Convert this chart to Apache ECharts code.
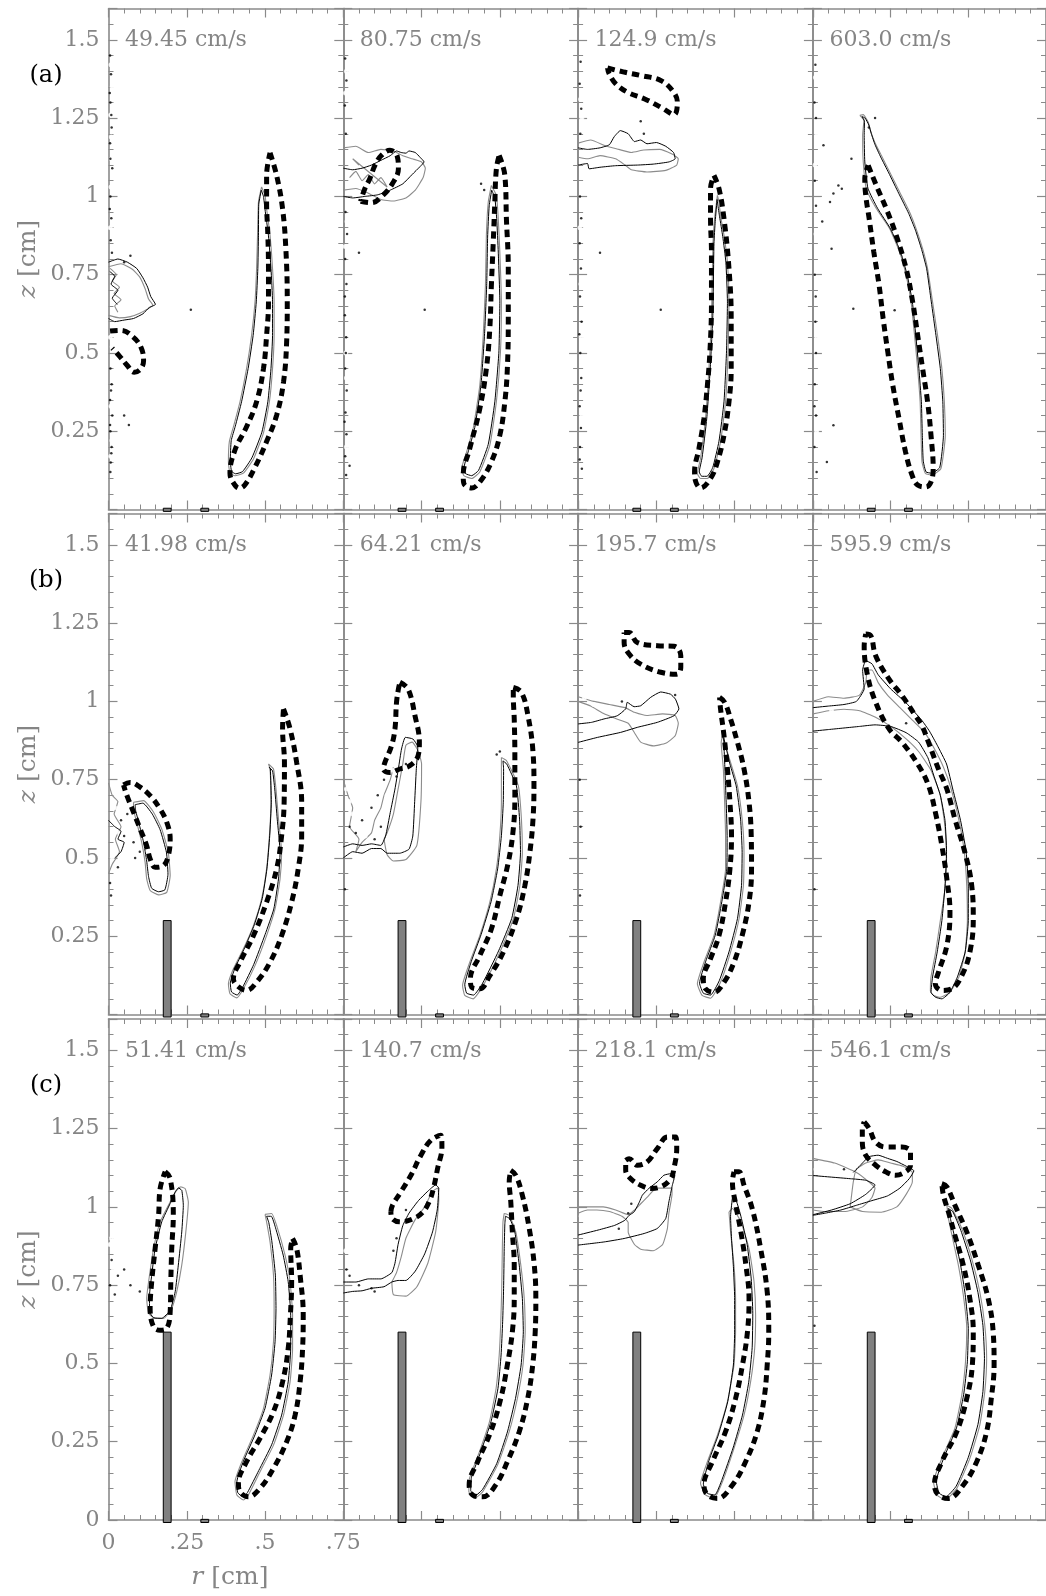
<!DOCTYPE html>
<html>
<head>
<meta charset="utf-8">
<title>Flame front contours</title>
<script src="https://cdn.jsdelivr.net/npm/echarts@6.0.0/dist/echarts.min.js"></script>
<style>
  html, body { margin: 0; padding: 0; background: #fff; }
  #chart { width: 1046px; height: 1596px; }
</style>
</head>
<body>
<div id="chart"></div>
<script>
// ---------- panel labels ----------
const rowLabels = ['(a)', '(b)', '(c)'];
const speedTitles = [
  ['49.45 cm/s', '80.75 cm/s', '124.9 cm/s', '603.0 cm/s'],
  ['41.98 cm/s', '64.21 cm/s', '195.7 cm/s', '595.9 cm/s'],
  ['51.41 cm/s', '140.7 cm/s', '218.1 cm/s', '546.1 cm/s']
];
const rTicks = [0, 0.25, 0.5, 0.75];
const zTicks = [0, 0.25, 0.5, 0.75, 1, 1.25, 1.5];

// ---------- rods [r0, r1, z0, z1] per row ----------
const rodsA = [[0.175, 0.2, -0.006, 0.004], [0.295, 0.32, -0.006, 0.004]];
const rodsB = [[0.175, 0.2, -0.008, 0.3], [0.295, 0.32, -0.008, 0.002]];
const rodsC = [[0.175, 0.2, -0.008, 0.6], [0.295, 0.32, -0.008, 0.002]];

// ---------- row (a) ----------
const a1Dash = [[.516,1.139],[.537,1.067],[.556,.961],[.567,.822],[.571,.663],[.569,.535],[.559,.407],[.537,.301],[.505,.217],[.468,.135],[.436,.079],[.418,.068],[.397,.088],[.388,.116],[.404,.19],[.441,.264],[.473,.344],[.495,.45],[.505,.556],[.511,.663],[.511,.769],[.509,.876],[.505,.982],[.505,1.067],[.516,1.139]];
const a1DashSmall = [[.005,.57],[.04,.572],[.08,.55],[.105,.515],[.112,.475],[.102,.448],[.082,.438],[.06,.46],[.035,.49],[.012,.515]];
const a1Gray = [[.489,1.03],[.479,.982],[.476,.876],[.473,.769],[.468,.663],[.457,.556],[.441,.45],[.42,.344],[.399,.264],[.386,.217],[.383,.153],[.388,.116],[.404,.108],[.431,.116],[.463,.161],[.495,.245],[.514,.344],[.524,.45],[.529,.556],[.529,.663],[.524,.769],[.516,.876],[.505,.961],[.5,1.003],[.489,1.03]];
const a1Black = [[.488,1.02],[.48,.975],[.479,.876],[.477,.769],[.472,.663],[.462,.556],[.446,.45],[.425,.344],[.405,.266],[.392,.22],[.389,.158],[.393,.122],[.406,.114],[.428,.121],[.458,.165],[.49,.247],[.509,.344],[.519,.45],[.524,.556],[.524,.663],[.519,.769],[.511,.874],[.5,.958],[.495,1.0],[.488,1.02]];
const a1BlobBlack = [[0,.79],[.03,.8],[.06,.79],[.09,.77],[.11,.74],[.125,.71],[.135,.68],[.15,.655],[.13,.645],[.11,.625],[.08,.61],[.05,.605],[.02,.6],[0,.61]];
const a1BlobGray = [[0,.775],[.04,.785],[.075,.768],[.1,.742],[.117,.705],[.128,.672],[.142,.652],[.124,.64],[.1,.627],[.07,.616],[.035,.612],[0,.62]];
const a1NoiseGray = [[.005,.77],[.025,.75],[.012,.73],[.035,.71],[.018,.69],[.04,.67],[.02,.65],[.03,.63]];
const a1NoiseBlack = [[.004,.76],[.02,.745],[.008,.72],[.03,.7],[.012,.675],[.028,.655]];
const a1SpecksK = [[.005,1.45],[.008,1.39],[.006,1.3],[.01,1.22],[.005,1.17],[.012,1.09],[.006,1.0],[.009,.93],[.007,.86],[.011,.82],[.05,.79],[.07,.81],[.263,.638],[.006,.45],[.01,.4],[.005,.35],[.012,.3],[.006,.25],[.01,.2],[.007,.15],[.05,.3],[.065,.27],[.004,1.33],[.009,1.26],[.006,1.12],[.004,.96],[.008,.38],[.005,.27],[.009,.18],[.006,.12]];
const a1SpecksG = [[.008,1.42],[.012,1.35],[.007,1.26],[.01,1.12],[.008,1.03],[.006,.55],[.012,.52],[.008,.33],[.011,.22],[.007,.17],[.03,.14],[.009,1.19],[.006,.9]];

const a2Dash = [[.498,1.131],[.516,1.067],[.521,.929],[.527,.769],[.527,.61],[.524,.45],[.516,.344],[.5,.237],[.473,.152],[.436,.088],[.41,.069],[.385,.083],[.383,.11],[.404,.195],[.436,.322],[.457,.45],[.468,.578],[.473,.716],[.479,.854],[.484,.982],[.489,1.088],[.498,1.131]];
const a2DashTop = [[.055,.984],[.09,.98],[.128,1.005],[.157,1.041],[.176,1.088],[.172,1.129],[.149,1.147],[.122,1.131],[.101,1.099],[.085,1.057],[.069,1.025],[.055,.984]];
const a2Gray = [[.473,1.035],[.463,.982],[.457,.876],[.454,.716],[.447,.557],[.436,.397],[.415,.259],[.394,.184],[.378,.131],[.385,.108],[.41,.099],[.436,.12],[.468,.205],[.489,.344],[.502,.503],[.505,.663],[.5,.822],[.495,.929],[.489,1.003],[.473,1.035]];
const a2Black = [[.474,1.02],[.466,.97],[.461,.87],[.458,.716],[.451,.557],[.44,.4],[.42,.262],[.4,.188],[.386,.135],[.39,.115],[.41,.108],[.432,.125],[.463,.208],[.484,.344],[.497,.503],[.5,.663],[.495,.822],[.49,.929],[.484,.995],[.474,1.02]];
const a2TopBlack = [[0,1.0],[.03,.995],[.07,1.0],[.11,1.005],[.15,1.02],[.19,1.04],[.22,1.07],[.245,1.095],[.258,1.11],[.245,1.125],[.23,1.14],[.21,1.145],[.2,1.138],[.185,1.14],[.17,1.145],[.15,1.13],[.12,1.115],[.09,1.1],[.06,1.09],[.03,1.085],[0,1.09]];
const a2TopGray = [[0,1.02],[.04,1.025],[.08,1.01],[.12,.99],[.16,.985],[.2,.995],[.23,1.02],[.255,1.06],[.262,1.09],[.25,1.11],[.22,1.12],[.19,1.13],[.16,1.145],[.12,1.15],[.08,1.14],[.04,1.16],[0,1.155]];
const a2NoiseGray = [[.02,1.06],[.04,1.08],[.06,1.05],[.08,1.07],[.1,1.04],[.12,1.06],[.14,1.03],[.03,1.12],[.05,1.1]];
const a2SpecksK = [[.006,1.44],[.01,1.37],[.005,1.29],[.008,1.2],[.007,.95],[.012,.88],[.006,.8],[.01,.72],[.005,.62],[.009,.55],[.006,.45],[.011,.38],[.007,.31],[.01,.24],[.006,.17],[.02,.14],[.26,.638],[.05,.82],[.44,1.04],[.45,1.02],[.005,.68],[.008,.5],[.004,.28],[.009,.11]];
const a2SpecksG = [[.01,1.4],[.007,1.33],[.012,.92],[.008,.5],[.096,.507],[.138,.652],[.01,.2],[.025,.16],[.006,.84],[.01,.42]];

const a3Dash = [[.434,1.067],[.45,1.025],[.466,.929],[.482,.769],[.489,.61],[.489,.45],[.482,.344],[.466,.237],[.445,.152],[.423,.099],[.391,.069],[.376,.088],[.372,.12],[.386,.195],[.402,.291],[.413,.397],[.421,.503],[.426,.663],[.426,.822],[.423,.929],[.423,1.025],[.434,1.067]];
const a3DashTop = [[.094,1.41],[.147,1.397],[.2,1.386],[.264,1.37],[.301,1.338],[.317,1.301],[.306,1.261],[.269,1.282],[.211,1.312],[.157,1.333],[.12,1.36],[.099,1.392],[.094,1.41]];
const a3Gray = [[.445,1.003],[.436,.929],[.431,.854],[.428,.716],[.426,.61],[.418,.45],[.407,.291],[.391,.163],[.381,.115],[.391,.099],[.413,.099],[.434,.131],[.455,.216],[.471,.344],[.479,.503],[.482,.663],[.477,.791],[.466,.876],[.455,.939],[.45,.982],[.445,1.003]];
const a3Black = [[.444,.99],[.438,.92],[.434,.85],[.432,.716],[.43,.61],[.422,.45],[.411,.291],[.396,.165],[.387,.12],[.395,.106],[.412,.106],[.43,.134],[.45,.218],[.466,.344],[.474,.503],[.477,.663],[.472,.79],[.462,.872],[.452,.935],[.446,.975],[.444,.99]];
const a3TopBlack = [[0,1.1],[.03,1.105],[.035,1.088],[.07,1.093],[.12,1.098],[.19,1.1],[.24,1.103],[.29,1.11],[.31,1.12],[.305,1.14],[.28,1.16],[.25,1.172],[.22,1.168],[.2,1.18],[.18,1.175],[.16,1.2],[.135,1.21],[.115,1.19],[.1,1.165],[.07,1.155],[.03,1.15],[0,1.155]];
const a3TopGray = [[0,1.17],[.04,1.18],[.09,1.16],[.13,1.15],[.17,1.14],[.21,1.148],[.26,1.15],[.3,1.135],[.32,1.12],[.315,1.1],[.28,1.083],[.22,1.078],[.17,1.085],[.15,1.1],[.12,1.12],[.07,1.13],[.03,1.12],[0,1.125]];
const a3SpecksK = [[.008,1.43],[.005,1.36],[.01,1.28],[.007,1.2],[.006,1.0],[.01,.93],[.005,.85],[.009,.77],[.006,.68],[.011,.6],[.007,.5],[.01,.42],[.005,.33],[.009,.26],[.006,.2],[.012,.13],[.264,.638],[.07,.82],[.21,1.2],[.2,1.24],[.004,.56],[.008,.38],[.005,.16]];
const a3SpecksG = [[.008,1.31],[.012,1.25],[.01,.55],[.1,.507],[.141,.652],[.012,.3],[.02,.18],[.006,.9],[.009,.72]];

const a4Dash = [[.178,1.099],[.204,1.035],[.236,.961],[.268,.876],[.3,.769],[.321,.663],[.337,.557],[.353,.45],[.369,.344],[.38,.237],[.387,.131],[.38,.088],[.364,.072],[.337,.078],[.319,.11],[.298,.184],[.277,.291],[.257,.397],[.241,.503],[.226,.61],[.213,.716],[.196,.822],[.181,.929],[.17,1.003],[.167,1.057],[.178,1.099]];
const a4Gray = [[.151,1.259],[.164,1.243],[.16,1.195],[.162,1.11],[.172,1.024],[.204,.961],[.247,.897],[.279,.822],[.3,.748],[.316,.663],[.327,.556],[.337,.45],[.345,.344],[.348,.237],[.351,.152],[.362,.115],[.383,.11],[.412,.131],[.426,.237],[.423,.344],[.415,.45],[.401,.556],[.385,.663],[.369,.769],[.353,.833],[.332,.897],[.311,.95],[.279,1.014],[.247,1.078],[.22,1.131],[.199,1.173],[.185,1.211],[.178,1.237],[.162,1.261],[.151,1.259]];
const a4Black = [[.158,1.255],[.166,1.24],[.165,1.195],[.167,1.11],[.177,1.026],[.208,.962],[.25,.896],[.283,.82],[.304,.746],[.32,.663],[.331,.556],[.341,.45],[.349,.344],[.352,.237],[.355,.155],[.364,.12],[.382,.116],[.408,.134],[.42,.237],[.418,.344],[.41,.45],[.396,.556],[.381,.663],[.366,.769],[.35,.83],[.33,.892],[.308,.946],[.276,1.01],[.244,1.075],[.218,1.126],[.2,1.165],[.188,1.2],[.18,1.228],[.168,1.25],[.158,1.255]];
const a4SpecksK = [[.008,1.42],[.005,1.3],[.01,1.25],[.034,1.163],[.124,1.12],[.082,1.035],[.093,1.024],[.066,1.009],[.055,.982],[.006,1.05],[.01,.97],[.03,.92],[.06,.833],[.13,.641],[.263,.636],[.066,.269],[.045,.152],[.008,.6],[.01,.5],[.006,.4],[.01,.3],[.005,.2],[.012,.12],[.18,1.22],[.2,1.25],[.006,.75],[.009,.68],[.005,.33]];
const a4SpecksG = [[.008,1.38],[.012,1.2],[.03,.99],[.01,.88],[.098,.503],[.025,.45],[.012,.25],[.03,.15],[.007,1.1],[.012,.55]];

// ---------- row (b) ----------
const b1Dash = [[.559,.976],[.58,.912],[.601,.805],[.617,.678],[.617,.571],[.606,.465],[.585,.359],[.553,.252],[.516,.167],[.473,.103],[.441,.077],[.41,.093],[.399,.114],[.42,.167],[.463,.252],[.505,.359],[.537,.465],[.553,.571],[.561,.678],[.562,.805],[.556,.912],[.559,.976]];
const b1DashLeft = [[.048,.733],[.069,.741],[.101,.726],[.133,.699],[.165,.656],[.186,.614],[.197,.561],[.191,.507],[.176,.476],[.149,.47],[.133,.497],[.122,.539],[.101,.593],[.08,.646],[.059,.699],[.048,.733]];
const b1Gray = [[.511,.8],[.527,.784],[.535,.72],[.543,.624],[.553,.518],[.548,.433],[.532,.337],[.505,.252],[.468,.156],[.431,.082],[.41,.053],[.388,.066],[.383,.098],[.399,.146],[.431,.21],[.463,.284],[.489,.369],[.505,.465],[.514,.571],[.519,.678],[.516,.784],[.511,.8]];
const b1Black = [[.513,.79],[.524,.778],[.531,.72],[.539,.624],[.548,.518],[.543,.433],[.528,.337],[.5,.255],[.464,.16],[.429,.088],[.411,.062],[.393,.072],[.389,.1],[.404,.148],[.435,.213],[.466,.287],[.491,.37],[.506,.465],[.515,.571],[.52,.678],[.517,.784],[.513,.79]];
const b1LeftGray = [[.08,.678],[.112,.683],[.144,.646],[.17,.593],[.191,.518],[.197,.444],[.186,.39],[.16,.382],[.133,.396],[.122,.433],[.117,.486],[.106,.55],[.09,.614],[.08,.656],[.08,.678]];
const b1LeftBlack = [[.085,.67],[.11,.675],[.14,.64],[.165,.59],[.185,.518],[.19,.448],[.18,.398],[.16,.392],[.138,.403],[.128,.44],[.122,.49],[.112,.55],[.097,.612],[.087,.65],[.085,.67]];
const b1NoiseGray = [[0,.74],[.012,.7],[.03,.68],[.018,.64],[.04,.6],[.022,.56],[.035,.52],[.012,.48],[0,.45]];
const b1NoiseBlack = [[0,.62],[.02,.6],[.04,.585],[.03,.56],[.05,.55],[.04,.52],[.02,.5]];
const b1SpecksK = [[.005,.42],[.008,.38],[.05,.57],[.08,.55],[.1,.52],[.085,.5],[.03,.47],[.11,.58],[.04,.62],[.06,.64]];
const b1SpecksG = [[.02,.66],[.035,.58],[.06,.6],[.09,.56],[.012,.5],[.07,.45]];

const b2Dash = [[.543,1.045],[.569,1.029],[.59,.954],[.606,.837],[.609,.731],[.606,.624],[.596,.518],[.58,.412],[.553,.305],[.511,.199],[.468,.124],[.436,.082],[.41,.087],[.406,.114],[.436,.188],[.473,.273],[.5,.38],[.527,.486],[.543,.593],[.548,.699],[.548,.827],[.546,.944],[.543,1.018],[.543,1.045]];
const b2DashLeft = [[.181,1.061],[.207,1.039],[.229,.954],[.243,.869],[.239,.827],[.213,.795],[.181,.784],[.149,.773],[.128,.784],[.133,.805],[.154,.858],[.165,.912],[.17,.997],[.176,1.039],[.181,1.061]];
const b2Gray = [[.505,.821],[.521,.811],[.559,.731],[.569,.624],[.572,.518],[.564,.412],[.543,.305],[.5,.199],[.447,.093],[.415,.05],[.388,.061],[.381,.093],[.404,.167],[.436,.252],[.468,.359],[.489,.465],[.5,.571],[.505,.678],[.505,.784],[.505,.821]];
const b2Black = [[.51,.81],[.522,.8],[.553,.73],[.563,.624],[.566,.518],[.558,.412],[.538,.307],[.496,.203],[.445,.1],[.416,.062],[.394,.068],[.388,.095],[.409,.17],[.44,.255],[.472,.36],[.493,.465],[.505,.571],[.511,.678],[.512,.784],[.51,.81]];
const b2LeftBlack = [[0,.5],[.03,.52],[.06,.515],[.09,.53],[.12,.53],[.14,.515],[.18,.515],[.21,.528],[.222,.57],[.228,.68],[.233,.78],[.238,.855],[.222,.88],[.198,.885],[.186,.848],[.176,.785],[.165,.72],[.15,.645],[.135,.57],[.12,.54],[.09,.545],[.06,.54],[.03,.545],[0,.535]];
const b2LeftGray = [[.13,.56],[.14,.51],[.16,.49],[.2,.495],[.235,.54],[.248,.68],[.25,.8],[.24,.84],[.22,.87],[.2,.86],[.19,.8],[.175,.72],[.16,.64],[.14,.58],[.13,.56]];
const b2NoiseGray = [[0,.75],[.015,.7],[.03,.66],[.02,.6],[.05,.56],[.04,.52],[.06,.55],[.09,.58],[.1,.62],[.12,.66],[.13,.7],[.15,.75],[.16,.79]];
const b2SpecksK = [[.02,.6],[.04,.58],[.06,.62],[.09,.66],[.11,.7],[.12,.6],[.1,.56],[.13,.75],[.2,.8],[.17,.76],[.5,.84],[.49,.83],[.005,.4]];
const b2SpecksG = [[.01,.72],[.02,.68],[.03,.64],[.05,.6],[.07,.57],[.015,.56],[.14,.7],[.16,.78]];

const b3Dash = [[.452,1.013],[.468,.997],[.487,.944],[.509,.869],[.53,.784],[.546,.678],[.553,.571],[.554,.465],[.546,.359],[.524,.252],[.498,.167],[.466,.103],[.434,.071],[.407,.082],[.4,.114],[.423,.178],[.45,.252],[.471,.359],[.485,.465],[.49,.571],[.485,.678],[.477,.784],[.466,.891],[.455,.976],[.452,1.013]];
const b3DashTop = [[.147,1.22],[.163,1.22],[.189,1.188],[.253,1.178],[.306,1.176],[.328,1.146],[.328,1.109],[.315,1.087],[.264,1.093],[.2,1.119],[.163,1.151],[.147,1.188],[.147,1.22]];
const b3Gray = [[.461,.89],[.487,.805],[.509,.731],[.524,.624],[.53,.518],[.528,.412],[.514,.305],[.487,.199],[.455,.103],[.423,.052],[.396,.061],[.381,.098],[.402,.167],[.434,.252],[.455,.359],[.471,.465],[.471,.571],[.468,.678],[.464,.784],[.457,.869],[.461,.89]];
const b3Black = [[.465,.885],[.485,.8],[.505,.73],[.519,.624],[.524,.518],[.522,.412],[.509,.306],[.482,.2],[.451,.108],[.423,.062],[.4,.068],[.388,.1],[.407,.168],[.438,.253],[.459,.36],[.475,.465],[.476,.571],[.473,.678],[.469,.784],[.465,.885]];
const b3TopBlack = [[0,.869],[.062,.885],[.136,.901],[.189,.917],[.253,.933],[.306,.954],[.322,.976],[.311,1.007],[.295,1.023],[.264,1.03],[.232,1.013],[.2,.986],[.179,.983],[.157,.997],[.152,.976],[.125,.954],[.083,.944],[.043,.933],[0,.928]];
const b3TopGray = [[0,1.0],[.04,.985],[.08,.962],[.12,.945],[.16,.93],[.18,.9],[.2,.87],[.24,.858],[.28,.866],[.31,.89],[.32,.93],[.31,.955],[.27,.96],[.22,.955],[.18,.965],[.15,.98],[.1,.99],[.05,1.0],[0,1.015]];
const b3SpecksK = [[.005,.75],[.008,.6],[.006,.38],[.31,1.02],[.14,1.0]];
const b3SpecksG = [[.02,1.01],[.05,.99],[.14,1.02]];

const b4Dash = [[.17,1.215],[.186,1.21],[.202,1.146],[.245,1.071],[.287,1.018],[.33,.954],[.351,.922],[.372,.869],[.404,.784],[.431,.72],[.457,.624],[.489,.518],[.511,.412],[.516,.305],[.505,.199],[.479,.124],[.447,.082],[.415,.077],[.394,.098],[.404,.135],[.431,.22],[.441,.327],[.431,.433],[.415,.539],[.394,.646],[.372,.731],[.34,.795],[.287,.869],[.245,.912],[.202,.997],[.176,1.082],[.165,1.177],[.17,1.215]];
const b4Black = [[0,.905],[.05,.91],[.1,.915],[.15,.92],[.2,.925],[.25,.92],[.3,.9],[.34,.87],[.37,.82],[.39,.76],[.41,.7],[.425,.62],[.43,.52],[.425,.41],[.415,.3],[.4,.2],[.385,.12],[.38,.07],[.395,.055],[.415,.05],[.44,.07],[.465,.12],[.49,.2],[.5,.3],[.5,.41],[.493,.52],[.475,.62],[.45,.72],[.43,.8],[.4,.86],[.375,.905],[.35,.94],[.3,.995],[.25,1.04],[.21,1.085],[.19,1.12],[.17,1.13],[.16,1.1],[.165,1.04],[.14,1.0],[.1,.99],[.05,.985],[0,.98]];
const b4Gray = [[0,.96],[.05,.97],[.1,.975],[.15,.97],[.2,.95],[.25,.92],[.3,.88],[.34,.84],[.38,.78],[.41,.7],[.425,.6],[.43,.5],[.425,.4],[.41,.3],[.395,.2],[.38,.12],[.378,.075],[.39,.06],[.41,.055],[.44,.07],[.47,.12],[.49,.2],[.497,.3],[.495,.41],[.487,.52],[.47,.62],[.445,.72],[.42,.79],[.39,.85],[.36,.9],[.32,.94],[.28,.98],[.24,1.02],[.21,1.06],[.19,1.1],[.175,1.1],[.17,1.06],[.15,1.02],[.1,1.01],[.05,1.015],[0,1.0]];
const b4SpecksK = [[.005,.4],[.3,.93]];
const b4SpecksG = [[.02,.98],[.06,.97]];

// ---------- row (c) ----------
const c1Dash = [[.588,.899],[.601,.867],[.612,.782],[.622,.654],[.62,.548],[.612,.441],[.596,.335],[.569,.25],[.527,.165],[.484,.101],[.447,.074],[.42,.09],[.415,.117],[.441,.186],[.484,.261],[.527,.346],[.556,.441],[.574,.548],[.581,.654],[.585,.761],[.582,.867],[.588,.899]];
const c1DashLeft = [[.181,1.112],[.197,1.091],[.207,.974],[.202,.867],[.199,.761],[.197,.665],[.186,.612],[.165,.606],[.144,.617],[.133,.676],[.138,.761],[.149,.867],[.16,.973],[.165,1.059],[.181,1.112]];
const c1Gray = [[.5,.976],[.521,.979],[.537,.941],[.564,.846],[.58,.761],[.588,.654],[.588,.548],[.58,.441],[.559,.335],[.527,.239],[.484,.154],[.447,.08],[.431,.064],[.41,.08],[.404,.122],[.426,.186],[.463,.271],[.495,.356],[.516,.463],[.527,.569],[.529,.676],[.527,.782],[.516,.888],[.505,.952],[.5,.976]];
const c1Black = [[.505,.97],[.52,.97],[.533,.935],[.558,.846],[.574,.761],[.582,.654],[.582,.548],[.574,.441],[.553,.335],[.521,.24],[.48,.158],[.444,.088],[.43,.074],[.413,.087],[.41,.122],[.431,.188],[.468,.272],[.5,.357],[.521,.463],[.532,.569],[.535,.676],[.533,.782],[.522,.888],[.512,.95],[.505,.97]];
const c1LeftGray = [[.229,1.064],[.245,1.058],[.255,1.015],[.247,.92],[.234,.814],[.218,.729],[.202,.676],[.176,.644],[.149,.644],[.128,.66],[.122,.707],[.131,.782],[.144,.867],[.165,.952],[.197,1.016],[.218,1.053],[.229,1.064]];
const c1LeftBlack = [[.223,1.061],[.234,1.053],[.239,1.005],[.234,.92],[.223,.814],[.213,.729],[.197,.67],[.17,.644],[.144,.646],[.131,.665],[.131,.718],[.138,.782],[.149,.867],[.17,.952],[.197,1.011],[.213,1.048],[.223,1.061]];
const c1SpecksK = [[.01,.83],[.03,.78],[.05,.8],[.07,.75],[.1,.73],[.005,.75],[.02,.72]];
const c1SpecksG = [[.015,.8],[.04,.76],[.06,.74],[.09,.78],[.005,.88],[.01,.9]];

const c2Dash = [[.535,1.117],[.551,1.101],[.572,1.037],[.594,.931],[.61,.814],[.615,.707],[.613,.601],[.605,.495],[.589,.388],[.562,.282],[.524,.186],[.487,.112],[.445,.074],[.413,.08],[.402,.112],[.429,.186],[.471,.282],[.503,.388],[.524,.495],[.54,.601],[.546,.707],[.546,.814],[.54,.92],[.535,1.016],[.53,1.08],[.535,1.117]];
const c2DashLeft = [[.152,.984],[.157,1.005],[.184,1.048],[.216,1.101],[.248,1.165],[.28,1.213],[.312,1.229],[.315,1.191],[.301,1.122],[.288,1.059],[.274,1.016],[.253,.982],[.221,.961],[.184,.952],[.157,.962],[.152,.984]];
const c2Gray = [[.514,.979],[.53,.973],[.551,.92],[.567,.814],[.578,.707],[.581,.601],[.574,.495],[.556,.388],[.53,.282],[.493,.176],[.445,.09],[.419,.069],[.401,.09],[.403,.133],[.435,.218],[.467,.314],[.488,.42],[.498,.527],[.503,.633],[.506,.739],[.508,.867],[.51,.952],[.514,.979]];
const c2Black = [[.518,.97],[.532,.962],[.548,.92],[.562,.814],[.572,.707],[.575,.601],[.568,.495],[.55,.388],[.525,.284],[.49,.18],[.445,.098],[.422,.078],[.407,.094],[.409,.135],[.44,.22],[.472,.315],[.494,.42],[.504,.527],[.509,.633],[.512,.739],[.514,.867],[.516,.945],[.518,.97]];
const c2LeftBlack = [[0,.725],[.03,.73],[.06,.732],[.09,.74],[.13,.745],[.155,.76],[.175,.765],[.2,.765],[.23,.795],[.26,.85],[.285,.92],[.3,.99],[.305,1.06],[.295,1.07],[.27,1.05],[.24,1.02],[.21,.98],[.19,.94],[.175,.88],[.165,.82],[.155,.79],[.12,.77],[.08,.77],[.04,.76],[0,.76]];
const c2LeftGray = [[.155,.76],[.16,.72],[.2,.715],[.235,.745],[.27,.82],[.295,.92],[.305,1.02],[.302,1.06],[.285,1.05],[.26,1.0],[.23,.96],[.2,.9],[.185,.84],[.17,.79],[.155,.76]];
const c2SpecksK = [[.01,.8],[.02,.78],[.05,.75],[.09,.74],[.1,.73],[.2,.99],[.17,.9],[.16,.86]];
const c2SpecksG = [[.008,.86],[.015,.82],[.03,.79],[.13,.8]];

const c3Dash = [[.498,1.112],[.514,1.112],[.53,1.069],[.556,.995],[.583,.867],[.604,.729],[.609,.601],[.604,.495],[.594,.388],[.572,.282],[.535,.186],[.493,.112],[.445,.069],[.413,.08],[.402,.112],[.429,.186],[.471,.282],[.503,.388],[.525,.495],[.541,.601],[.546,.707],[.536,.814],[.52,.92],[.504,1.005],[.493,1.08],[.498,1.112]];
const c3DashTop = [[.152,1.149],[.163,1.154],[.189,1.133],[.221,1.144],[.253,1.186],[.285,1.223],[.312,1.223],[.315,1.186],[.306,1.122],[.296,1.09],[.264,1.064],[.232,1.059],[.2,1.069],[.168,1.09],[.152,1.117],[.152,1.149]];
const c3Gray = [[.482,.984],[.493,.995],[.52,.952],[.546,.867],[.562,.761],[.567,.654],[.564,.548],[.551,.441],[.53,.335],[.498,.229],[.461,.122],[.434,.069],[.407,.08],[.391,.117],[.413,.186],[.445,.271],[.477,.378],[.498,.495],[.503,.601],[.503,.707],[.498,.814],[.487,.92],[.482,.984]];
const c3Black = [[.493,1.03],[.505,1.02],[.52,.97],[.54,.88],[.553,.77],[.558,.66],[.556,.55],[.545,.44],[.525,.335],[.495,.23],[.46,.13],[.437,.08],[.413,.085],[.4,.115],[.418,.19],[.448,.272],[.478,.378],[.496,.495],[.5,.6],[.5,.71],[.496,.81],[.49,.9],[.487,.97],[.493,1.03]];
const c3TopBlack = [[0,.878],[.083,.888],[.147,.899],[.211,.915],[.253,.931],[.28,.963],[.29,1.016],[.301,1.069],[.309,1.101],[.296,1.106],[.274,1.101],[.253,1.08],[.226,1.059],[.205,1.037],[.196,1.016],[.179,.984],[.163,.973],[.149,.957],[.117,.941],[.064,.926],[0,.91]];
const c3TopGray = [[0,.98],[.03,.99],[.06,.99],[.1,.985],[.14,.97],[.16,.95],[.16,.92],[.18,.88],[.2,.865],[.24,.86],[.27,.88],[.285,.93],[.29,.98],[.3,1.04],[.3,1.06],[.28,1.06],[.25,1.06],[.22,1.03],[.2,1.01],[.18,.99],[.16,.975],[.12,.99],[.08,1.0],[.04,1.0],[0,1.0]];
const c3SpecksK = [[.16,.98],[.17,1.01],[.13,.93]];
const c3SpecksG = [[.01,.97],[.03,.95],[.08,.93],[.1,.94]];

const c4Dash = [[.415,1.074],[.431,1.064],[.457,1.005],[.495,.92],[.532,.814],[.564,.707],[.58,.601],[.583,.495],[.574,.388],[.559,.282],[.527,.186],[.484,.112],[.436,.069],[.404,.08],[.391,.112],[.415,.186],[.463,.282],[.495,.388],[.513,.495],[.516,.601],[.505,.707],[.484,.814],[.457,.909],[.436,.984],[.42,1.037],[.415,1.074]];
const c4DashTop = [[.165,1.271],[.181,1.25],[.202,1.207],[.234,1.191],[.287,1.191],[.314,1.176],[.314,1.133],[.298,1.112],[.266,1.101],[.234,1.112],[.202,1.133],[.17,1.165],[.159,1.207],[.159,1.25],[.165,1.271]];
const c4Gray = [[.431,1.005],[.447,.995],[.479,.931],[.511,.835],[.537,.729],[.553,.622],[.559,.516],[.553,.41],[.537,.303],[.505,.197],[.463,.101],[.426,.064],[.399,.08],[.388,.122],[.415,.197],[.457,.293],[.479,.399],[.491,.505],[.495,.612],[.484,.718],[.468,.814],[.452,.888],[.436,.963],[.431,1.005]];
const c4Black = [[.435,.995],[.45,.985],[.476,.925],[.506,.832],[.531,.727],[.547,.622],[.552,.516],[.547,.41],[.531,.305],[.5,.2],[.461,.108],[.428,.074],[.406,.086],[.397,.124],[.421,.198],[.462,.294],[.485,.4],[.497,.505],[.5,.612],[.49,.72],[.475,.815],[.459,.89],[.443,.96],[.435,.995]];
const c4WedgeBlack = [[0,1.1],[.06,1.095],[.12,1.09],[.17,1.085],[.2,1.07],[.17,1.04],[.12,1.01],[.06,.99],[0,.975]];
const c4TopBlack = [[.13,1.11],[.15,1.13],[.18,1.16],[.21,1.165],[.24,1.155],[.27,1.145],[.3,1.13],[.325,1.115],[.31,1.09],[.28,1.06],[.24,1.035],[.19,1.02],[.14,1.005],[.09,.99],[.04,.98],[0,.973]];
const c4WedgeGray = [[0,1.155],[.07,1.14],[.14,1.11],[.18,1.08],[.2,1.06],[.19,1.03],[.16,1.0],[.1,.985],[.04,.985],[0,.99]];
const c4TopGray = [[.12,1.0],[.16,.985],[.22,.983],[.27,1.0],[.3,1.04],[.32,1.08],[.32,1.11],[.29,1.13],[.25,1.14],[.21,1.15],[.17,1.14],[.14,1.12],[.13,1.08],[.12,1.0]];
const c4SpecksK = [[.005,.62],[.1,1.12]];
const c4SpecksG = [[.01,1.12]];

// ---------- which outlines go into which panel ----------
const panels = [
  { dashed: [a1Dash, a1DashSmall], black: [a1Black, a1BlobBlack, a1NoiseBlack], gray: [a1Gray, a1BlobGray, a1NoiseGray], specksK: a1SpecksK, specksG: a1SpecksG, rods: rodsA },
  { dashed: [a2Dash, a2DashTop], black: [a2Black, a2TopBlack], gray: [a2Gray, a2TopGray, a2NoiseGray], specksK: a2SpecksK, specksG: a2SpecksG, rods: rodsA },
  { dashed: [a3Dash, a3DashTop], black: [a3Black, a3TopBlack], gray: [a3Gray, a3TopGray], specksK: a3SpecksK, specksG: a3SpecksG, rods: rodsA },
  { dashed: [a4Dash], black: [a4Black], gray: [a4Gray], specksK: a4SpecksK, specksG: a4SpecksG, rods: rodsA },
  { dashed: [b1Dash, b1DashLeft], black: [b1Black, b1LeftBlack, b1NoiseBlack], gray: [b1Gray, b1LeftGray, b1NoiseGray], specksK: b1SpecksK, specksG: b1SpecksG, rods: rodsB },
  { dashed: [b2Dash, b2DashLeft], black: [b2Black, b2LeftBlack], gray: [b2Gray, b2LeftGray, b2NoiseGray], specksK: b2SpecksK, specksG: b2SpecksG, rods: rodsB },
  { dashed: [b3Dash, b3DashTop], black: [b3Black, b3TopBlack], gray: [b3Gray, b3TopGray], specksK: b3SpecksK, specksG: b3SpecksG, rods: rodsB },
  { dashed: [b4Dash], black: [b4Black], gray: [b4Gray], specksK: b4SpecksK, specksG: b4SpecksG, rods: rodsB },
  { dashed: [c1Dash, c1DashLeft], black: [c1Black, c1LeftBlack], gray: [c1Gray, c1LeftGray], specksK: c1SpecksK, specksG: c1SpecksG, rods: rodsC },
  { dashed: [c2Dash, c2DashLeft], black: [c2Black, c2LeftBlack], gray: [c2Gray, c2LeftGray], specksK: c2SpecksK, specksG: c2SpecksG, rods: rodsC },
  { dashed: [c3Dash, c3DashTop], black: [c3Black, c3TopBlack], gray: [c3Gray, c3TopGray], specksK: c3SpecksK, specksG: c3SpecksG, rods: rodsC },
  { dashed: [c4Dash, c4DashTop], black: [c4Black, c4WedgeBlack, c4TopBlack], gray: [c4Gray, c4WedgeGray, c4TopGray], specksK: c4SpecksK, specksG: c4SpecksG, rods: rodsC }
];

// ---------- layout and style ----------
const FONT = "'DejaVu Serif', serif";
const AXIS_GRAY = '#8a8a8a';
const TEXT_GRAY = '#858585';
const GRID_LEFT = 108.5, GRID_W = 234.8, GRID_H = 501;
const ROW_TOPS = [8.5, 513.5, 1019];
const R_MAX = 0.75, Z_MAX = 1.6;

const DASHED = { color: '#000', width: 5, type: [7.5, 5], cap: 'butt' };
const SOLID_K = { color: '#000', width: 1 };
const SOLID_G = { color: '#8c8c8c', width: 1.1 };

function fmt(v) { return String(Math.round(v * 100) / 100); }

function axisCommon(extra) {
  return Object.assign({
    type: 'value',
    axisLine: { show: true, onZero: false, lineStyle: { color: AXIS_GRAY, width: 1.6 } },
    axisTick: { show: true, inside: true, length: 9, lineStyle: { color: AXIS_GRAY, width: 1.2 } },
    minorTick: { show: true, splitNumber: 5, length: 5, lineStyle: { color: AXIS_GRAY, width: 1 } },
    splitLine: { show: false },
    minorSplitLine: { show: false }
  }, extra);
}

const grids = [], xAxes = [], yAxes = [], series = [], titles = [];

panels.forEach((p, i) => {
  const row = Math.floor(i / 4), col = i % 4;
  grids.push({ left: GRID_LEFT + col * GRID_W, top: ROW_TOPS[row], width: GRID_W, height: GRID_H });

  const showR = row === 2 && col === 0;
  xAxes.push(axisCommon({
    gridIndex: i, position: 'bottom', min: 0, max: R_MAX, interval: 0.25,
    axisLabel: {
      show: showR, margin: 12, color: TEXT_GRAY, fontFamily: FONT, fontSize: 22,
      showMinLabel: true, showMaxLabel: true,
      formatter: v => rTicks.some(t => Math.abs(t - v) < 1e-6) ? fmt(v).replace(/^0\./, '.') : ''
    }
  }));
  xAxes.push(axisCommon({ gridIndex: i, position: 'top', min: 0, max: R_MAX, interval: 0.25, axisLabel: { show: false } }));

  const showZ = col === 0;
  yAxes.push(axisCommon({
    gridIndex: i, position: 'left', min: 0, max: Z_MAX, interval: 0.25,
    axisLabel: {
      show: showZ, margin: 9, color: TEXT_GRAY, fontFamily: FONT, fontSize: 22,
      showMinLabel: true, showMaxLabel: true,
      formatter: v => {
        if (!zTicks.some(t => Math.abs(t - v) < 1e-6)) return '';
        if (Math.abs(v) < 1e-6 && row !== 2) return '';
        return fmt(v);
      }
    }
  }));
  yAxes.push(axisCommon({ gridIndex: i, position: 'right', min: 0, max: Z_MAX, interval: 0.25, axisLabel: { show: false } }));

  const ax = { xAxisIndex: 2 * i, yAxisIndex: 2 * i };
  p.gray.forEach(d => series.push(Object.assign({ type: 'line', data: d, symbol: 'none', smooth: 0.15, lineStyle: SOLID_G, z: 2, silent: true }, ax)));
  p.black.forEach(d => series.push(Object.assign({ type: 'line', data: d, symbol: 'none', smooth: 0.15, lineStyle: SOLID_K, z: 3, silent: true }, ax)));
  p.dashed.forEach(d => series.push(Object.assign({ type: 'line', data: d, symbol: 'none', smooth: 0.4, lineStyle: DASHED, z: 5, silent: true }, ax)));
  series.push(Object.assign({ type: 'scatter', data: p.specksK, symbolSize: 2.5, itemStyle: { color: '#000' }, z: 3, silent: true }, ax));
  series.push(Object.assign({ type: 'scatter', data: p.specksG, symbol: 'emptyCircle', symbolSize: 3, itemStyle: { color: '#fff', borderColor: '#8c8c8c', borderWidth: 1 }, z: 2, silent: true }, ax));
  series.push(Object.assign({
    type: 'custom', data: p.rods, clip: false, z: 6, silent: true,
    encode: { x: [0, 1], y: [2, 3] },
    renderItem: (params, api) => {
      const tl = api.coord([api.value(0), api.value(3)]);
      const br = api.coord([api.value(1), api.value(2)]);
      return {
        type: 'rect',
        shape: { x: tl[0], y: tl[1], width: br[0] - tl[0], height: br[1] - tl[1] },
        style: { fill: '#808080', stroke: '#000', lineWidth: 1 }
      };
    }
  }, ax));

  titles.push({
    text: speedTitles[row][col],
    left: GRID_LEFT + col * GRID_W + 16.5,
    top: ROW_TOPS[row] + 21,
    padding: 0,
    textStyle: { fontFamily: FONT, fontSize: 22, fontWeight: 'normal', color: TEXT_GRAY }
  });
});

const graphics = [];
rowLabels.forEach((lab, row) => {
  graphics.push({
    type: 'text', x: 46, y: ROW_TOPS[row] + 67,
    style: { text: lab, font: '24px ' + FONT, fill: '#000', textAlign: 'center', textVerticalAlign: 'middle' }
  });
  graphics.push({
    type: 'text', x: 28, y: ROW_TOPS[row] + GRID_H / 2, rotation: Math.PI / 2,
    style: {
      text: '{i|z} [cm]', font: '25px ' + FONT, fill: TEXT_GRAY, textAlign: 'center', textVerticalAlign: 'middle',
      rich: { i: { fontStyle: 'italic', fontFamily: FONT, fontSize: 25, fill: TEXT_GRAY } }
    }
  });
});
graphics.push({
  type: 'text', x: GRID_LEFT + GRID_W / 2 + 4, y: 1577,
  style: {
    text: '{i|r} [cm]', font: '25px ' + FONT, fill: TEXT_GRAY, textAlign: 'center', textVerticalAlign: 'middle',
    rich: { i: { fontStyle: 'italic', fontFamily: FONT, fontSize: 25, fill: TEXT_GRAY } }
  }
});

const chart = echarts.init(document.getElementById('chart'), null, { renderer: 'canvas' });
chart.setOption({
  animation: false,
  backgroundColor: '#fff',
  title: titles,
  grid: grids,
  xAxis: xAxes,
  yAxis: yAxes,
  series: series,
  graphic: graphics
});
</script>
</body>
</html>
